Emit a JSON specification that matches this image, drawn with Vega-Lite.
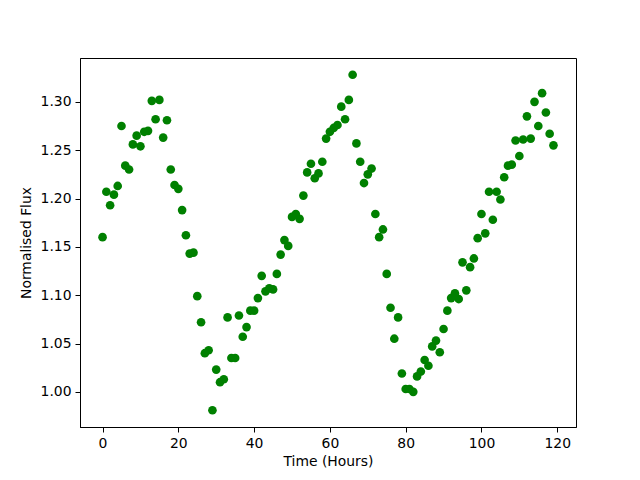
{
  "$schema": "https://vega.github.io/schema/vega-lite/v6.json",
  "autosize": {"type": "none"},
  "width": 496,
  "height": 369,
  "padding": {"left": 80, "top": 58, "right": 64, "bottom": 53},
  "background": "white",
  "config": {
    "view": {"stroke": "black", "strokeWidth": 1},
    "axis": {
      "labelFont": "DejaVu Sans",
      "titleFont": "DejaVu Sans",
      "labelFontSize": 13.9,
      "titleFontSize": 13.9,
      "titleFontWeight": "normal",
      "labelColor": "black",
      "titleColor": "black",
      "domainColor": "black",
      "tickColor": "black",
      "tickSize": 5,
      "labelPadding": 4,
      "grid": false
    }
  },
  "data": {
    "values": [
      {"t": 0, "f": 1.160}, {"t": 1, "f": 1.207}, {"t": 2, "f": 1.193}, {"t": 3, "f": 1.204},
      {"t": 4, "f": 1.213}, {"t": 5, "f": 1.275}, {"t": 6, "f": 1.234}, {"t": 7, "f": 1.230},
      {"t": 8, "f": 1.256}, {"t": 9, "f": 1.265}, {"t": 10, "f": 1.254}, {"t": 11, "f": 1.269},
      {"t": 12, "f": 1.270}, {"t": 13, "f": 1.301}, {"t": 14, "f": 1.282}, {"t": 15, "f": 1.302},
      {"t": 16, "f": 1.263}, {"t": 17, "f": 1.281}, {"t": 18, "f": 1.230}, {"t": 19, "f": 1.214},
      {"t": 20, "f": 1.210}, {"t": 21, "f": 1.188}, {"t": 22, "f": 1.162}, {"t": 23, "f": 1.143},
      {"t": 24, "f": 1.144}, {"t": 25, "f": 1.099}, {"t": 26, "f": 1.072}, {"t": 27, "f": 1.040},
      {"t": 28, "f": 1.043}, {"t": 29, "f": 0.981}, {"t": 30, "f": 1.023}, {"t": 31, "f": 1.010},
      {"t": 32, "f": 1.013}, {"t": 33, "f": 1.077}, {"t": 34, "f": 1.035}, {"t": 35, "f": 1.035},
      {"t": 36, "f": 1.079}, {"t": 37, "f": 1.057}, {"t": 38, "f": 1.067}, {"t": 39, "f": 1.084},
      {"t": 40, "f": 1.084}, {"t": 41, "f": 1.097}, {"t": 42, "f": 1.120}, {"t": 43, "f": 1.104},
      {"t": 44, "f": 1.107}, {"t": 45, "f": 1.106}, {"t": 46, "f": 1.122}, {"t": 47, "f": 1.142},
      {"t": 48, "f": 1.157}, {"t": 49, "f": 1.151}, {"t": 50, "f": 1.181}, {"t": 51, "f": 1.184},
      {"t": 52, "f": 1.179}, {"t": 53, "f": 1.203}, {"t": 54, "f": 1.227}, {"t": 55, "f": 1.236},
      {"t": 56, "f": 1.221}, {"t": 57, "f": 1.226}, {"t": 58, "f": 1.238}, {"t": 59, "f": 1.262},
      {"t": 60, "f": 1.269}, {"t": 61, "f": 1.273}, {"t": 62, "f": 1.276}, {"t": 63, "f": 1.295},
      {"t": 64, "f": 1.282}, {"t": 65, "f": 1.302}, {"t": 66, "f": 1.328}, {"t": 67, "f": 1.257},
      {"t": 68, "f": 1.238}, {"t": 69, "f": 1.216}, {"t": 70, "f": 1.225}, {"t": 71, "f": 1.231},
      {"t": 72, "f": 1.184}, {"t": 73, "f": 1.160}, {"t": 74, "f": 1.168}, {"t": 75, "f": 1.122},
      {"t": 76, "f": 1.087}, {"t": 77, "f": 1.055}, {"t": 78, "f": 1.077}, {"t": 79, "f": 1.019},
      {"t": 80, "f": 1.003}, {"t": 81, "f": 1.003}, {"t": 82, "f": 1.000}, {"t": 83, "f": 1.016},
      {"t": 84, "f": 1.021}, {"t": 85, "f": 1.033}, {"t": 86, "f": 1.027}, {"t": 87, "f": 1.047},
      {"t": 88, "f": 1.053}, {"t": 89, "f": 1.041}, {"t": 90, "f": 1.065}, {"t": 91, "f": 1.084},
      {"t": 92, "f": 1.097}, {"t": 93, "f": 1.102}, {"t": 94, "f": 1.096}, {"t": 95, "f": 1.134},
      {"t": 96, "f": 1.105}, {"t": 97, "f": 1.129}, {"t": 98, "f": 1.138}, {"t": 99, "f": 1.159},
      {"t": 100, "f": 1.184}, {"t": 101, "f": 1.164}, {"t": 102, "f": 1.207}, {"t": 103, "f": 1.178},
      {"t": 104, "f": 1.207}, {"t": 105, "f": 1.199}, {"t": 106, "f": 1.222}, {"t": 107, "f": 1.234},
      {"t": 108, "f": 1.235}, {"t": 109, "f": 1.260}, {"t": 110, "f": 1.244}, {"t": 111, "f": 1.261},
      {"t": 112, "f": 1.285}, {"t": 113, "f": 1.262}, {"t": 114, "f": 1.300}, {"t": 115, "f": 1.275},
      {"t": 116, "f": 1.309}, {"t": 117, "f": 1.289}, {"t": 118, "f": 1.267}, {"t": 119, "f": 1.255}
    ]
  },
  "mark": {"type": "point", "filled": true, "shape": "circle", "size": 75, "color": "#008000", "opacity": 1},
  "encoding": {
    "x": {
      "field": "t", "type": "quantitative", "title": "Time (Hours)",
      "scale": {"domain": [-5.95, 124.95], "nice": false, "zero": false},
      "axis": {"values": [0, 20, 40, 60, 80, 100, 120], "titlePadding": 5}
    },
    "y": {
      "field": "f", "type": "quantitative", "title": "Normalised Flux",
      "scale": {"domain": [0.96365, 1.34535], "nice": false, "zero": false},
      "axis": {"values": [1.0, 1.05, 1.1, 1.15, 1.2, 1.25, 1.3], "format": ".2f", "titlePadding": 7}
    }
  }
}
